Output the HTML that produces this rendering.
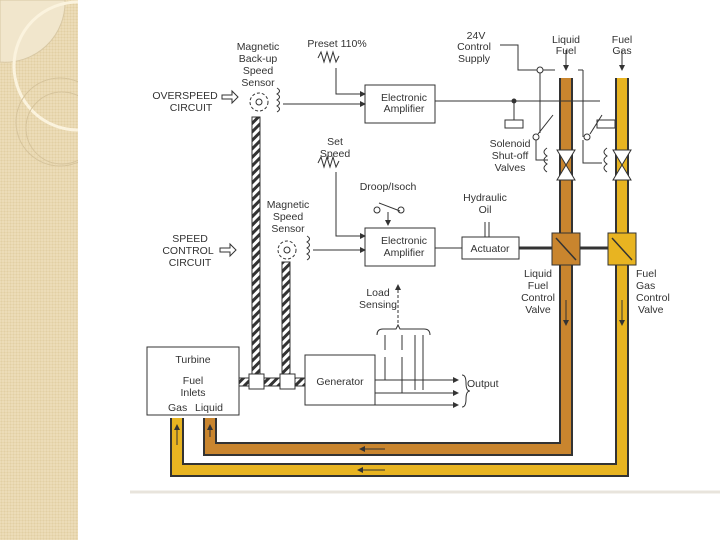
<!DOCTYPE html>
<html><head><meta charset="utf-8"><style>
body{margin:0;width:720px;height:540px;background:#fff;overflow:hidden;position:relative;font-family:"Liberation Sans",sans-serif}
#panel{position:absolute;left:0;top:0;width:78px;height:540px;background:#ecdcb8;background-image:radial-gradient(#e2cfa4 1px,transparent 1px);background-size:3px 3px}
svg{position:absolute;left:0;top:0}
text{font-family:"Liberation Sans",sans-serif;font-size:10.5px;fill:#333}
</style></head><body>
<div id="panel"></div>
<svg width="720" height="540">
<defs>
<pattern id="hz" width="6" height="6" patternUnits="userSpaceOnUse" patternTransform="rotate(45)"><rect width="6" height="6" fill="#fff"/><rect width="3" height="6" fill="#333"/></pattern>
<marker id="a" markerWidth="6" markerHeight="6" refX="5" refY="3" orient="auto"><path d="M0,0L6,3L0,6z" fill="#333"/></marker>
<clipPath id="pc"><rect x="0" y="0" width="78" height="540"/></clipPath>
</defs>
<g clip-path="url(#pc)">
<path d="M65,0 A60,60 0 0 1 0,62 V0z" fill="#f1e6cc" stroke="#d8c8a4"/>
<circle cx="78" cy="66" r="64" fill="none" stroke="#fbf3de" stroke-width="3"/>
<circle cx="60" cy="122" r="44" fill="none" stroke="#d6c49c"/>
<circle cx="62" cy="128" r="36" fill="none" stroke="#d6c49c"/>
</g>
<line x1="130" y1="492" x2="720" y2="492" stroke="#e8e4dc" stroke-width="3"/>
<path d="M566,78 V449 H210 V418" fill="none" stroke="#333" stroke-width="14"/>
<path d="M566,78 V449 H210 V418" fill="none" stroke="#c9852e" stroke-width="10"/>
<path d="M622,78 V470 H177 V418" fill="none" stroke="#333" stroke-width="14"/>
<path d="M622,78 V470 H177 V418" fill="none" stroke="#e8b421" stroke-width="10"/>
<g fill="#fff" stroke="#333"><path d="M557,150L575,180L557,180L575,150z"/><path d="M613,150L631,180L613,180L631,150z"/></g>
<rect x="552" y="233" width="28" height="32" fill="#c9852e" stroke="#333"/>
<rect x="608" y="233" width="28" height="32" fill="#e8b421" stroke="#333"/>
<g stroke="#333" stroke-width="1.5"><line x1="556" y1="238" x2="576" y2="260"/><line x1="612" y1="238" x2="632" y2="260"/></g>
<g stroke="#333" fill="none" marker-end="url(#a)"><line x1="566" y1="300" x2="566" y2="325"/><line x1="622" y1="300" x2="622" y2="325"/><line x1="385" y1="449" x2="360" y2="449"/><line x1="385" y1="470" x2="358" y2="470"/><line x1="177" y1="445" x2="177" y2="425"/><line x1="210" y1="437" x2="210" y2="425"/><line x1="566" y1="50" x2="566" y2="70"/><line x1="622" y1="50" x2="622" y2="70"/></g>
<g fill="#fff" stroke="#333"><rect x="365" y="85" width="70" height="38"/><rect x="365" y="228" width="70" height="38"/><rect x="462" y="237" width="57" height="22"/><rect x="147" y="347" width="92" height="68"/><rect x="305" y="355" width="70" height="50"/></g>
<rect x="252" y="117" width="8" height="260" fill="url(#hz)" stroke="#333"/>
<rect x="282" y="262" width="8" height="115" fill="url(#hz)" stroke="#333"/>
<rect x="239" y="378" width="66" height="8" fill="url(#hz)" stroke="#333"/>
<g fill="#fff" stroke="#333"><rect x="249" y="374" width="15" height="15"/><rect x="280" y="374" width="15" height="15"/></g>
<g fill="none" stroke="#333"><circle cx="259" cy="102" r="9" stroke-dasharray="3 2"/><circle cx="259" cy="102" r="3"/><circle cx="287" cy="250" r="9" stroke-dasharray="3 2"/><circle cx="287" cy="250" r="3"/>
<path d="M277,88 q5,3 0,6 q5,3 0,6 q5,3 0,6 q5,3 0,6"/><path d="M307,236 q5,3 0,6 q5,3 0,6 q5,3 0,6 q5,3 0,6"/>
<path d="M283,104 H365" marker-end="url(#a)"/><path d="M313,250 H365" marker-end="url(#a)"/>
<path d="M318,58 l3,-6 l3,10 l3,-10 l3,10 l3,-10 l3,10 l3,-6"/><path d="M336,68 V94 H365" marker-end="url(#a)"/>
<path d="M318,163 l3,-6 l3,10 l3,-10 l3,10 l3,-10 l3,10 l3,-6"/><path d="M336,172 V236 H365" marker-end="url(#a)"/>
<circle cx="377" cy="210" r="3"/><circle cx="401" cy="210" r="3"/><line x1="379" y1="203" x2="400" y2="211"/><path d="M388,212 V225" marker-end="url(#a)"/>
<line x1="435" y1="248" x2="462" y2="248"/><line x1="485" y1="222" x2="485" y2="237"/><line x1="489" y1="222" x2="489" y2="237"/>
<line x1="519" y1="248" x2="552" y2="248" stroke-width="3"/><line x1="580" y1="248" x2="608" y2="248" stroke-width="3"/>
<path d="M500,45 H518 V70 H537"/><circle cx="540" cy="70" r="3"/><line x1="543" y1="70" x2="555" y2="70"/>
<path d="M435,101 H600"/><circle cx="514" cy="101" r="2" fill="#333"/><line x1="514" y1="101" x2="514" y2="120"/><rect x="505" y="120" width="18" height="8"/>
<line x1="540" y1="73" x2="540" y2="133"/><circle cx="536" cy="137" r="3"/><line x1="538" y1="134" x2="553" y2="115"/>
<line x1="578" y1="70" x2="583" y2="70"/><line x1="583" y1="70" x2="583" y2="137"/><circle cx="587" cy="137" r="3"/><line x1="590" y1="134" x2="602" y2="115"/><rect x="597" y="120" width="18" height="8"/>
<path d="M536,140 V160 H548"/><path d="M583,140 V163 H602"/>
<path d="M547,148 q-6,4 0,8 q-6,4 0,8 q-6,4 0,8"/><path d="M607,148 q-6,4 0,8 q-6,4 0,8 q-6,4 0,8"/>
<path d="M398,323 V285" stroke-dasharray="3 2" marker-end="url(#a)"/>
<path d="M377,335 q0,-6 6,-6 h13 l2,-4 l2,4 h24 q6,0 6,6"/>
<path d="M385,335 V350 M402,335 V350 M385,357 V380 M402,357 V393 M415,335 V390 M423,335 V390"/>
<path d="M375,380 H458" marker-end="url(#a)"/><path d="M375,393 H458" marker-end="url(#a)"/><path d="M375,405 H458" marker-end="url(#a)"/>
<path d="M462,375 q4,0 4,8 q0,8 4,8 q-4,0 -4,8 q0,8 -4,8"/>
<path d="M222,95 h10 v-4 l6,6 -6,6 v-4 h-10z"/><path d="M220,248 h10 v-4 l6,6 -6,6 v-4 h-10z"/>
</g>
<g text-anchor="middle">
<text x="258" y="50">Magnetic</text><text x="258" y="62">Back-up</text><text x="258" y="74">Speed</text><text x="258" y="86">Sensor</text>
<text x="337" y="47">Preset 110%</text>
<text x="404" y="101">Electronic</text><text x="404" y="112">Amplifier</text>
<text x="404" y="244">Electronic</text><text x="404" y="256">Amplifier</text>
<text x="476" y="39">24V</text><text x="474" y="50">Control</text><text x="474" y="62">Supply</text>
<text x="566" y="43">Liquid</text><text x="566" y="54">Fuel</text><text x="622" y="43">Fuel</text><text x="622" y="54">Gas</text>
<text x="335" y="145">Set</text><text x="335" y="157">Speed</text><text x="388" y="190">Droop/Isoch</text>
<text x="288" y="208">Magnetic</text><text x="288" y="220">Speed</text><text x="288" y="232">Sensor</text>
<text x="485" y="201">Hydraulic</text><text x="485" y="213">Oil</text><text x="490" y="252">Actuator</text>
<text x="510" y="147">Solenoid</text><text x="510" y="159">Shut-off</text><text x="510" y="171">Valves</text>
<text x="538" y="277">Liquid</text><text x="538" y="289">Fuel</text><text x="538" y="301">Control</text><text x="538" y="313">Valve</text>
<text x="378" y="296">Load</text><text x="378" y="308">Sensing</text>
<text x="193" y="363">Turbine</text><text x="193" y="384">Fuel</text><text x="193" y="396">Inlets</text>
<text x="340" y="385">Generator</text>
<text x="185" y="99">OVERSPEED</text><text x="191" y="111">CIRCUIT</text>
<text x="190" y="242">SPEED</text><text x="188" y="254">CONTROL</text><text x="190" y="266">CIRCUIT</text>
</g>
<text x="636" y="277">Fuel</text><text x="636" y="289">Gas</text><text x="636" y="301">Control</text><text x="638" y="313">Valve</text>
<text x="467" y="387">Output</text>
<text x="168" y="411">Gas</text><text x="195" y="411">Liquid</text>
</svg>
</body></html>
